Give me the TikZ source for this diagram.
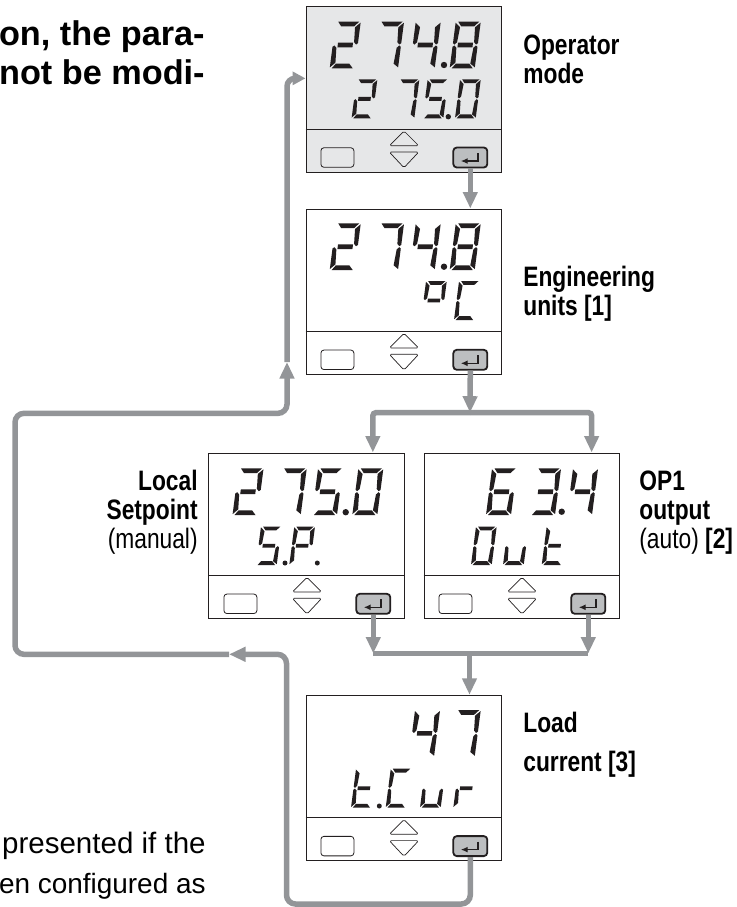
\documentclass[tikz,border=0pt]{standalone}
\usepackage{fontspec}
\setmainfont{Liberation Sans}
\newfontfamily\narrowfont[FakeStretch=0.81]{Liberation Sans}
\usetikzlibrary{arrows.meta,positioning,calc}
\definecolor{flowgray}{HTML}{939598}
\definecolor{panelgray}{HTML}{E6E7E8}
\definecolor{keygray}{HTML}{BCBEC0}
\definecolor{inkdark}{HTML}{231F20}
\tikzset{
  panel/.style    = {draw=inkdark, line width=0.2mm, rectangle, inner sep=0pt,
                     minimum width=39.14mm, minimum height=33.06mm},
  selectkey/.style= {draw=inkdark, line width=0.16mm, rectangle, rounded corners=0.6mm,
                     inner sep=0pt, minimum width=6.6mm, minimum height=3.9mm},
  enterkey/.style = {draw=inkdark, line width=0.36mm, fill=keygray, rectangle,
                     rounded corners=0.7mm, inner sep=0pt,
                     minimum width=6.8mm, minimum height=4mm},
  flow/.style     = {draw=flowgray, line width=1.1mm,
                     -{Triangle[length=3.3mm,width=2.8mm]}},
  trunk/.style    = {draw=flowgray, line width=1.1mm},
  arrowkey/.style = {draw=inkdark, line width=0.14mm, rounded corners=0.35mm},
  seg/.style      = {fill=inkdark},
  opname/.style   = {font=\narrowfont\fontsize{16}{16.5}\selectfont, align=left},
  note/.style     = {font=\fontsize{15.9}{22.8}\selectfont, align=right},
  warn/.style     = {font=\bfseries\fontsize{19.5}{22.2}\selectfont, align=right},
}
% segments of one digit, unit box with y upwards
\newcommand{\sega}{\fill[seg] (.10,1) -- (.94,1) -- (.76,.90) -- (.24,.90) -- cycle;}
\newcommand{\segb}{\fill[seg] (1,.98) -- (1,.54) -- (.93,.51) -- (.84,.56) -- (.80,.88) -- cycle;}
\newcommand{\segc}{\fill[seg] (1,.46) -- (1,.02) -- (.80,.10) -- (.84,.44) -- (.93,.49) -- cycle;}
\newcommand{\segd}{\fill[seg] (.22,.10) -- (.76,.10) -- (.92,0) -- (.08,0) -- cycle;}
\newcommand{\sege}{\fill[seg] (0,.46) -- (.07,.49) -- (.16,.44) -- (.20,.12) -- (0,.02) -- cycle;}
\newcommand{\segf}{\fill[seg] (0,.54) -- (0,.98) -- (.20,.88) -- (.16,.56) -- (.07,.51) -- cycle;}
\newcommand{\segg}{\fill[seg] (.20,.55) -- (.80,.55) -- (.80,.45) -- (.20,.45) -- cycle;}
\newcommand{\lcdzero}{a,b,c,d,e,f}
\newcommand{\lcdtwo}{a,b,g,e,d}
\newcommand{\lcdthree}{a,b,g,c,d}
\newcommand{\lcdfour}{f,g,b,c}
\newcommand{\lcdfive}{a,f,g,c,d}
\newcommand{\lcdsix}{a,f,g,e,c,d}
\newcommand{\lcdseven}{a,b,c}
\newcommand{\lcdeight}{a,b,c,d,e,f,g}
\newcommand{\lcdP}{a,b,e,f,g}
\newcommand{\lcdC}{a,d,e,f}
\newcommand{\lcddeg}{a,b,f,g}
\newcommand{\lcdu}{c,d,e}
\newcommand{\lcdt}{d,e,f,g}
\newcommand{\lcdr}{e,g}
% bottom y, width, height, then xpos/character pairs
\newcommand{\lcdrow}[4]{
  \foreach \xpos/\ch in {#4} {
    \begin{scope}[shift={(\xpos,#1)},x=#2*0.2mm,y=#3*0.2mm,xslant=0.13]
      \edef\seglist{\csname lcd\ch\endcsname}
      \foreach \s in \seglist {\csname seg\s\endcsname}
    \end{scope}
  }
}
\newcommand{\lcdpanel}[4]{
  \begin{scope}[shift={(#2,#3)}]
    \node[panel,fill=#4] (#1Panel) at (97.85,82.65) {};
    \draw[draw=inkdark, line width=0.16mm] (#1Panel.west |- 0,122.5) -- (#1Panel.east |- 0,122.5);
    \node[selectkey] (#1Select) at (31.4,150.8) {};
    \node[enterkey] (#1Enter) at (164.3,150.8) {};
    \draw[arrowkey] (83.3,139) -- (98,124.3) -- (112.7,139) -- cycle;
    \draw[arrowkey] (83.3,145.3) -- (112.7,145.3) -- (98,161) -- cycle;
    \draw[inkdark, line width=0.3mm, -{Latex[length=1.4mm,width=1.2mm]}]
      (172,146.3) -- (172,154.3) -- (154.7,154.3);
  \end{scope}
}

\begin{document}
\begin{tikzpicture}[x=0.2mm,y=-0.2mm]
\useasboundingbox (0,0) rectangle (737,907);
% ---------- panels ----------
\lcdpanel{oper}{306}{6.7}{panelgray}
\lcdpanel{eng}{306}{209}{white}
\lcdpanel{local}{209}{453}{white}
\lcdpanel{out}{424}{453}{white}
\lcdpanel{load}{306}{695.3}{white}
% ---------- displays ----------
\lcdrow{68.3}{25}{46.6}{329.7/two,373/seven,409.7/four,449.7/eight}
\lcdrow{118.3}{20.7}{39}{351.6/two,393.6/seven,422.6/five,455/zero}
\lcdrow{270}{25}{46.6}{329.7/two,373/seven,409.7/four,449.7/eight}
\lcdrow{320}{20.7}{39}{421/deg,454/C}
\lcdrow{515}{25}{46.6}{232.5/two,275.7/seven,312/five,352.3/zero}
\lcdrow{565}{20.7}{38.5}{256/five,289.3/P}
\lcdrow{515}{25}{46.6}{486/six,530/three,567/four}
\lcdrow{565}{20.7}{38.5}{471/zero,503/u,541.7/t}
\lcdrow{756.7}{25}{46.6}{409/four,449.7/seven}
\lcdrow{807.7}{20.7}{39}{351/t,385.7/C,420/u,453.3/r}
\foreach \dotx/\doty/\dotr in {444/65/3.2, 448.3/116.7/2.7, 444/266.7/3.2, 345.7/512.2/3.2,
    285/563/2.5, 317.3/563/2.5, 561.7/511.7/3.2, 379.3/806/2.5}
  \fill[seg] (\dotx,\doty) circle[radius=\dotr];
% ---------- labels ----------
\node[opname,anchor=base west,inner sep=0pt] (operLabel) at (523,83) {\textbf{Operator}\\\textbf{mode}};
\node[opname,anchor=base west,inner sep=0pt] (engLabel) at (523,315) {\textbf{Engineering}\\\textbf{units [1]}};
\node[opname,anchor=base east,inner sep=0pt,align=right] (localLabel) at (198,548) {\textbf{Local}\\\textbf{Setpoint}\\(manual)};
\node[opname,anchor=base west,inner sep=0pt] (outLabel) at (639,548) {\textbf{OP1}\\\textbf{output}\\(auto) \textbf{[2]}};
\node[opname,anchor=base west,inner sep=0pt] (loadLabel) at (523,732) {\textbf{Load}};
\node[opname,anchor=base west,inner sep=0pt] (currentLabel) at (523,771.7) {\textbf{current [3]}};
\node[warn,anchor=base east,inner sep=0pt] (warnTop) at (205,45) {on, the para-};
\node[warn,anchor=base east,inner sep=0pt] (warnLow) at (205,84) {not be modi-};
\node[note,font=\fontsize{16.8}{22.8}\selectfont,anchor=base east,inner sep=0pt] (noteTop) at (206,853) {presented if the};
\node[note,anchor=base east,inner sep=0pt] (noteLow) at (206,893) {en configured as};
% ---------- connectors ----------
\coordinate (split) at (470,412.7);
\coordinate (localTop) at ($(localPanel.north)+(66,0)$);
\coordinate (outTop) at ($(outPanel.north)+(69.8,0)$);
\coordinate (merge) at (469.5,653.5);
\coordinate (returnTip) at (229,654.3);
\coordinate (loopLow) at (286.5,904);
\coordinate (loopWest) at (15,413.3);
\coordinate (upTip) at (287,362);
\coordinate (operEntry) at ($(operPanel.west)+(0,-11)$);
\draw[flow] (operEnter.south) -- (operEnter |- engPanel.north);
\draw[flow] (engEnter.south) -- (split);
\draw[flow,rounded corners=0.6mm] (split) -| (localTop);
\draw[flow,rounded corners=0.6mm] (split) -| (outTop);
\draw[flow] (localEnter.south) -- (localEnter |- merge);
\draw[flow] (outEnter.south) -- (outEnter |- merge);
\draw[trunk,rounded corners=0.6mm] (localEnter |- merge) -- (outEnter |- merge);
\draw[flow] (merge) -- (merge |- loadPanel.north);
\draw[flow,rounded corners=1.8mm] (loadEnter.south) |- (loopLow) |- (returnTip);
\draw[flow,rounded corners=1.8mm] (returnTip) -| (loopWest) -| (upTip);
\draw[trunk,-{Triangle[length=2.6mm,width=2.6mm]},rounded corners=1.6mm] (upTip) |- (operEntry);
\end{tikzpicture}
\end{document}
